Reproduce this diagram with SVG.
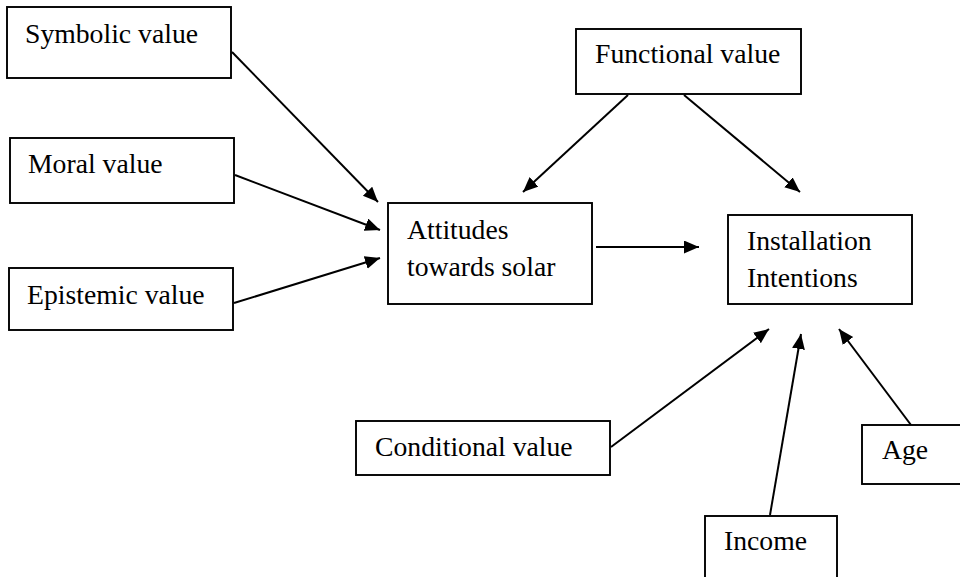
<svg xmlns="http://www.w3.org/2000/svg" width="960" height="577" viewBox="0 0 960 577">
<style>
.box{fill:#fff;stroke:#000;stroke-width:1.9}
.lbl{font-family:"Liberation Serif","Times New Roman",serif;font-size:27.7px;fill:#000}
.edge{stroke:#000;stroke-width:2;fill:none;marker-end:url(#ah)}
</style>
<defs>
<marker id="ah" markerUnits="userSpaceOnUse" markerWidth="16" markerHeight="14" refX="15" refY="6.5" orient="auto">
<path d="M0,0 L15,6.5 L0,13 z" fill="#000"/>
</marker>
</defs>
<rect width="960" height="577" fill="#fff"/>
<g id="connectors">
<line class="edge" x1="232" y1="52" x2="378" y2="202"/>
<line class="edge" x1="235" y1="175" x2="380" y2="230"/>
<line class="edge" x1="234" y1="303" x2="380" y2="258"/>
<line class="edge" x1="628" y1="95" x2="523" y2="192"/>
<line class="edge" x1="684" y1="95" x2="800" y2="192"/>
<line class="edge" x1="596" y1="247" x2="699" y2="247"/>
<line class="edge" x1="611" y1="447" x2="769" y2="329"/>
<line class="edge" x1="770" y1="515" x2="801" y2="334"/>
<line class="edge" x1="911" y1="425" x2="839" y2="329"/>
</g>
<g id="symbolic">
<rect class="box" x="7" y="7" width="224" height="71"/>
<text class="lbl" x="25" y="43">Symbolic value</text>
</g>
<g id="moral">
<rect class="box" x="10" y="138" width="224" height="65"/>
<text class="lbl" x="28" y="173">Moral value</text>
</g>
<g id="epistemic">
<rect class="box" x="9" y="268" width="224" height="62"/>
<text class="lbl" x="27" y="304">Epistemic value</text>
</g>
<g id="functional">
<rect class="box" x="576" y="29" width="225" height="65"/>
<text class="lbl" x="595" y="63">Functional value</text>
</g>
<g id="attitudes">
<rect class="box" x="388" y="203" width="204" height="101"/>
<text class="lbl" x="407" y="239">Attitudes</text>
<text class="lbl" x="407" y="276">towards solar</text>
</g>
<g id="installation">
<rect class="box" x="728" y="215" width="184" height="89"/>
<text class="lbl" x="747" y="250">Installation</text>
<text class="lbl" x="747" y="287">Intentions</text>
</g>
<g id="conditional">
<rect class="box" x="356" y="421" width="254" height="54"/>
<text class="lbl" x="375" y="456">Conditional value</text>
</g>
<g id="age">
<rect class="box" x="862" y="425" width="110" height="59"/>
<text class="lbl" x="882" y="459">Age</text>
</g>
<g id="income">
<rect class="box" x="705" y="516" width="132" height="70"/>
<text class="lbl" x="724" y="550">Income</text>
</g>
</svg>
